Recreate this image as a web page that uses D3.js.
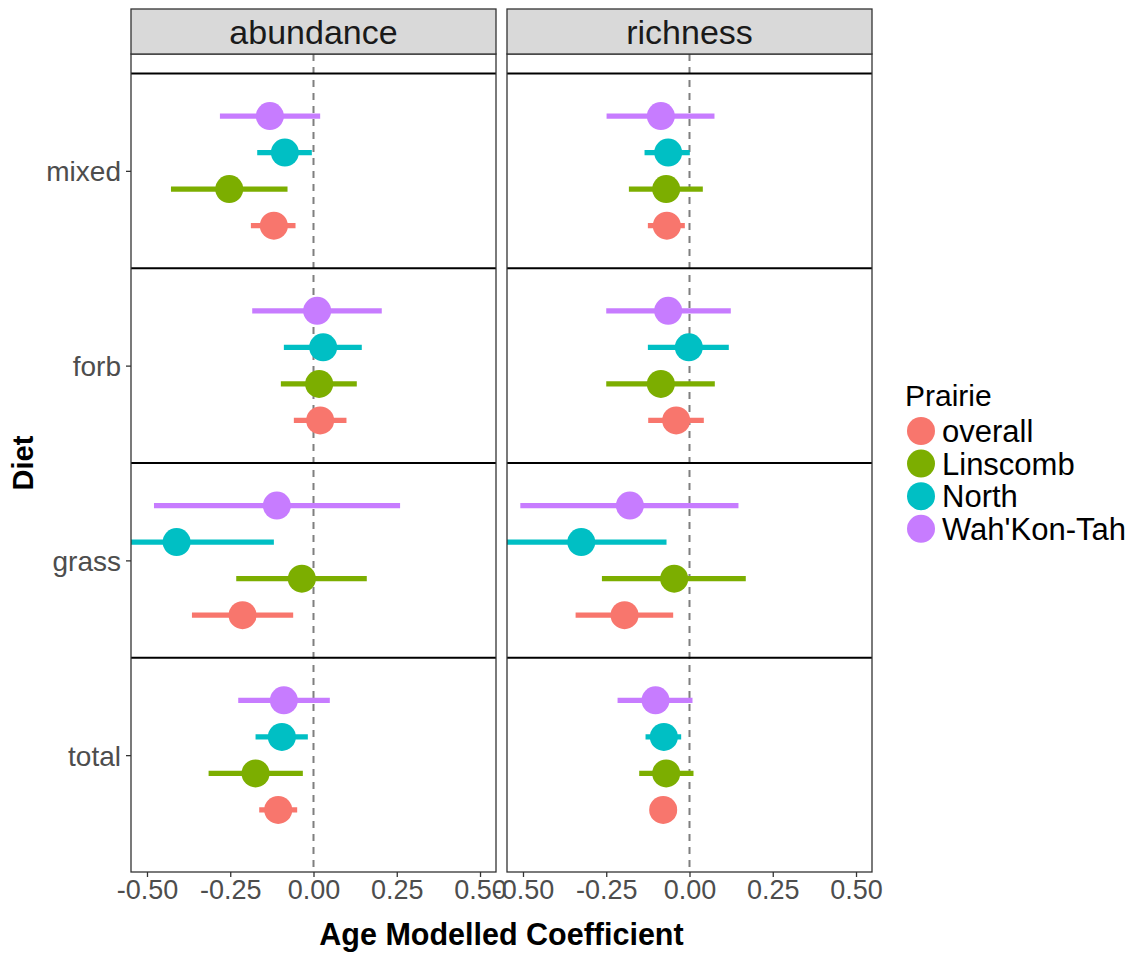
<!DOCTYPE html>
<html>
<head>
<meta charset="utf-8">
<script src="https://cdn.jsdelivr.net/npm/d3@7"></script>
<style>
  html, body { margin: 0; padding: 0; background: #fff; }
  svg { display: block; font-family: "Liberation Sans", Arial, sans-serif; }
</style>
</head>
<body>
<svg id="chart" width="1137" height="953"></svg>
<script>
// Diet groups (top to bottom) and prairie series
const diets = ["mixed", "forb", "grass", "total"];
const prairies = ["overall", "Linscomb", "North", "Wah'Kon-Tah"];
const prairieColors = ["#F8766D", "#7CAE00", "#00BFC4", "#C77CFF"];
const facets = ["abundance", "richness"];
const xTicks = [-0.5, -0.25, 0, 0.25, 0.5];

// Coefficients per diet row, columns in prairie order
const abundanceEstimate = [
  [-0.119, -0.253, -0.086, -0.131],
  [ 0.020,  0.017,  0.029,  0.011],
  [-0.213, -0.035, -0.411, -0.110],
  [-0.106, -0.174, -0.095, -0.089]
];
const abundanceLower = [
  [-0.188, -0.428, -0.169, -0.281],
  [-0.059, -0.098, -0.089, -0.184],
  [-0.365, -0.232, -0.700, -0.479],
  [-0.163, -0.315, -0.174, -0.226]
];
const abundanceUpper = [
  [-0.054, -0.078, -0.005,  0.020],
  [ 0.099,  0.130,  0.145,  0.205],
  [-0.061,  0.160, -0.119,  0.260],
  [-0.049, -0.032, -0.017,  0.049]
];
const richnessEstimate = [
  [-0.068, -0.070, -0.064, -0.086],
  [-0.040, -0.086, -0.002, -0.064],
  [-0.195, -0.046, -0.325, -0.179],
  [-0.079, -0.070, -0.077, -0.102]
];
const richnessLower = [
  [-0.125, -0.182, -0.135, -0.249],
  [-0.124, -0.250, -0.125, -0.250],
  [-0.342, -0.263, -0.590, -0.508],
  [-0.105, -0.151, -0.132, -0.216]
];
const richnessUpper = [
  [-0.014,  0.040,  0.001,  0.075],
  [ 0.043,  0.076,  0.118,  0.124],
  [-0.049,  0.169, -0.069,  0.147],
  [-0.055,  0.012, -0.025,  0.009]
];

// Long-format rows built from the arrays above
function rowsFor(facet, est, lo, hi) {
  const out = [];
  diets.forEach((d, i) => prairies.forEach((p, j) => {
    out.push({ facet, diet: d, prairie: p, pi: j, est: est[i][j], lo: lo[i][j], hi: hi[i][j] });
  }));
  return out;
}
const rows = {
  abundance: rowsFor("abundance", abundanceEstimate, abundanceLower, abundanceUpper),
  richness: rowsFor("richness", richnessEstimate, richnessLower, richnessUpper)
};

// Layout
const panelTop = 54, panelBottom = 872, stripTop = 9;
const panelLefts = [131, 507], panelWidth = 365;
const fontFam = '"Liberation Sans", Arial, sans-serif';

const svg = d3.select("#chart");

// Tick labels with a plain hyphen-minus
const fmt = d3.formatLocale({ decimal: ".", thousands: ",", grouping: [3], currency: ["", ""], minus: "-" }).format(".2f");

// Diet position: total=1 ... mixed=4, continuous scale with discrete padding
const y = d3.scaleLinear().domain([0.4, 4.6]).range([panelBottom, panelTop]);
const dietPos = d => diets.length - diets.indexOf(d);
const dodgeWidth = 0.75;
const dodge = j => (j - (prairies.length - 1) / 2) * dodgeWidth / prairies.length;
const color = d3.scaleOrdinal().domain(prairies).range(prairieColors);

facets.forEach((facet, fi) => {
  const left = panelLefts[fi];
  const x = d3.scaleLinear().domain([-0.548, 0.548]).range([left, left + panelWidth]);

  const g = svg.append("g");

  // panel background
  g.append("rect").attr("x", left).attr("y", panelTop)
    .attr("width", panelWidth).attr("height", panelBottom - panelTop)
    .attr("fill", "#fff");

  const clipId = "clip-" + facet;
  svg.append("clipPath").attr("id", clipId).append("rect")
    .attr("x", left).attr("y", panelTop)
    .attr("width", panelWidth).attr("height", panelBottom - panelTop);

  const inner = g.append("g").attr("clip-path", `url(#${clipId})`);

  // zero reference line
  inner.append("line")
    .attr("x1", x(0)).attr("x2", x(0))
    .attr("y1", panelTop).attr("y2", panelBottom)
    .attr("stroke", "#7f7f7f").attr("stroke-width", 2)
    .attr("stroke-dasharray", "7,6");

  // separators between diet groups
  const seps = d3.range(diets.length).map(k => k + 1.5);
  inner.selectAll("line.sep").data(seps).join("line")
    .attr("class", "sep")
    .attr("x1", left).attr("x2", left + panelWidth)
    .attr("y1", d => y(d)).attr("y2", d => y(d))
    .attr("stroke", "#000").attr("stroke-width", 2);

  // point ranges
  const pr = inner.selectAll("g.pr").data(rows[facet]).join("g").attr("class", "pr");
  pr.append("line")
    .attr("x1", d => x(d.lo)).attr("x2", d => x(d.hi))
    .attr("y1", d => y(dietPos(d.diet) + dodge(d.pi)))
    .attr("y2", d => y(dietPos(d.diet) + dodge(d.pi)))
    .attr("stroke", d => color(d.prairie)).attr("stroke-width", 5.3);
  pr.append("circle")
    .attr("cx", d => x(d.est))
    .attr("cy", d => y(dietPos(d.diet) + dodge(d.pi)))
    .attr("r", 14)
    .attr("fill", d => color(d.prairie));

  // panel border
  g.append("rect").attr("x", left).attr("y", panelTop)
    .attr("width", panelWidth).attr("height", panelBottom - panelTop)
    .attr("fill", "none").attr("stroke", "#333").attr("stroke-width", 1.3);

  // strip
  g.append("rect").attr("x", left).attr("y", stripTop)
    .attr("width", panelWidth).attr("height", panelTop - stripTop)
    .attr("fill", "#D9D9D9").attr("stroke", "#333").attr("stroke-width", 1.3);
  g.append("text")
    .attr("x", left + panelWidth / 2).attr("y", 44)
    .attr("text-anchor", "middle")
    .attr("font-size", 34).attr("fill", "#1A1A1A")
    .text(facet);

  // x axis
  const xAxis = d3.axisBottom(x).tickValues(xTicks)
    .tickFormat(fmt).tickSizeInner(5).tickSizeOuter(0);
  const ax = g.append("g").attr("transform", `translate(0,${panelBottom})`).call(xAxis);
  ax.select(".domain").remove();
  ax.selectAll(".tick line").attr("stroke", "#333").attr("stroke-width", 1.3);
  ax.selectAll(".tick text")
    .attr("font-family", fontFam).attr("font-size", 27)
    .attr("fill", "#4D4D4D").attr("y", 8).attr("dy", "0.72em");

  // y axis on the first panel
  if (fi === 0) {
    const yAxis = d3.axisLeft(y)
      .tickValues(diets.map(dietPos))
      .tickFormat(v => diets[diets.length - v])
      .tickSizeInner(5).tickSizeOuter(0);
    const ay = g.append("g").attr("transform", `translate(${left},0)`).call(yAxis);
    ay.select(".domain").remove();
    ay.selectAll(".tick line").attr("stroke", "#333").attr("stroke-width", 1.3);
    ay.selectAll(".tick text")
      .attr("font-family", fontFam).attr("font-size", 28)
      .attr("fill", "#4D4D4D").attr("x", -10).attr("dy", "0.36em");
  }
});

// axis titles
svg.append("text")
  .attr("x", (panelLefts[0] + panelLefts[1] + panelWidth) / 2).attr("y", 945)
  .attr("text-anchor", "middle").attr("font-size", 30.5).attr("font-weight", "bold")
  .attr("fill", "#000").text("Age Modelled Coefficient");
svg.append("text")
  .attr("transform", `translate(33,${(panelTop + panelBottom) / 2}) rotate(-90)`)
  .attr("text-anchor", "middle").attr("font-size", 29).attr("font-weight", "bold")
  .attr("fill", "#000").text("Diet");

// legend
const legend = svg.append("g");
legend.append("text").attr("x", 905).attr("y", 406)
  .attr("font-size", 30).attr("fill", "#000").text("Prairie");
const items = legend.selectAll("g.item").data(prairies).join("g")
  .attr("class", "item")
  .attr("transform", (d, i) => `translate(921,${431 + i * 32.6})`);
items.append("circle").attr("r", 14).attr("fill", d => color(d));
items.append("text").attr("x", 21).attr("dy", "0.36em")
  .attr("font-size", 31).attr("fill", "#000").text(d => d);
</script>
</body>
</html>
